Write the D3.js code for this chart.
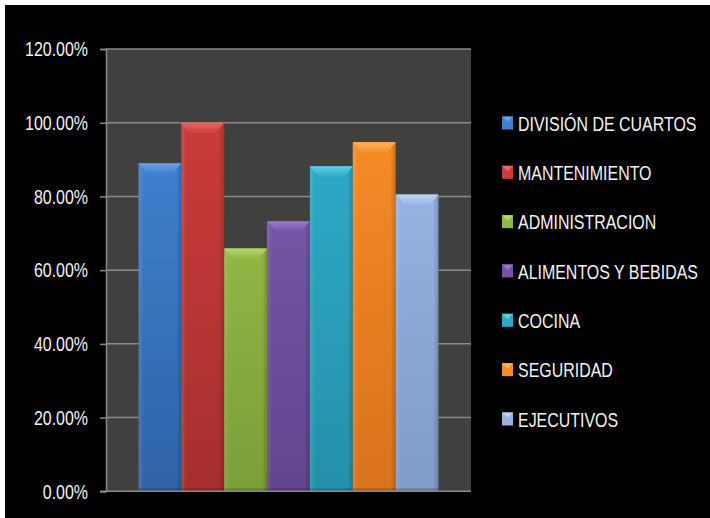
<!DOCTYPE html>
<html>
<head>
<meta charset="utf-8">
<script src="https://cdn.jsdelivr.net/npm/d3@7"></script>
<style>
  html, body { margin: 0; padding: 0; background: #fff; }
  svg { display: block; }
  text { font-family: "Liberation Sans", Arial, sans-serif; }
</style>
</head>
<body>
<svg id="chart" width="710" height="518"></svg>
<script>
// Porcentaje por departamento
const categories = [
  "DIVISIÓN DE CUARTOS",
  "MANTENIMIENTO",
  "ADMINISTRACION",
  "ALIMENTOS Y BEBIDAS",
  "COCINA",
  "SEGURIDAD",
  "EJECUTIVOS"
];
const values = [0.89, 1.00, 0.659, 0.733, 0.882, 0.947, 0.805];
const yTicks = [0, 0.2, 0.4, 0.6, 0.8, 1.0, 1.2];

// face colours per department: [top bevel, body top, body bottom]
const palette = [
  ["#62a2ee", "#3f7fcc", "#2f63a6"],
  ["#ec6664", "#c93c3a", "#a52f2e"],
  ["#b4d96a", "#90b644", "#7b9e38"],
  ["#9a78cc", "#7654a5", "#62448e"],
  ["#5ccfe8", "#2ea8c6", "#2590aa"],
  ["#ffb25a", "#f58a26", "#d7731d"],
  ["#bdd3f5", "#95b2e0", "#7f9bc8"]
];

const svg = d3.select("#chart");
const W = 710, H = 518;
const condense = 0.76;   // narrow the sans face horizontally

// frame: thin light strip on top/left, black canvas
svg.append("rect").attr("width", W).attr("height", H).attr("fill", "#ffffff");
svg.append("rect").attr("x", 5).attr("y", 5).attr("width", W - 5).attr("height", H - 5).attr("fill", "#000000");

const plot = { left: 106, right: 471, top: 49, bottom: 491.3 };

const x = d3.scaleBand()
  .domain(categories)
  .range([plot.left, plot.right])
  .paddingInner(0)
  .paddingOuter(0.76);

const y = d3.scaleLinear()
  .domain([0, 1.2])
  .range([plot.bottom, plot.top]);

// plot background
svg.append("rect")
  .attr("x", plot.left).attr("y", plot.top)
  .attr("width", plot.right - plot.left).attr("height", plot.bottom - plot.top)
  .attr("fill", "#404040");

// gridlines
svg.append("g")
  .selectAll("line")
  .data(yTicks.filter(t => t > 0))
  .join("line")
  .attr("x1", plot.left).attr("x2", plot.right)
  .attr("y1", d => y(d)).attr("y2", d => y(d))
  .attr("stroke", "#8a8a8a").attr("stroke-width", 1.5);

// y axis
const yAxis = d3.axisLeft(y)
  .tickValues(yTicks)
  .tickFormat(d => (d * 100).toFixed(2) + "%")
  .tickSize(6)
  .tickPadding(12);

const gy = svg.append("g")
  .attr("transform", `translate(${plot.left},0)`)
  .call(yAxis);
gy.select(".domain").attr("stroke", "#8a8a8a").attr("stroke-width", 1.5);
gy.selectAll(".tick line").attr("stroke", "#8a8a8a").attr("stroke-width", 1.5);
gy.selectAll(".tick text")
  .attr("fill", "#f2f2f2")
  .attr("x", 0)
  .attr("transform", `translate(-18,0) scale(${condense},1)`)
  .style("font-size", "21px")
  .style("font-family", '"Liberation Sans", Arial, sans-serif');

// gradients
const defs = svg.append("defs");
palette.forEach((c, i) => {
  const g = defs.append("linearGradient").attr("id", "body" + i)
    .attr("x1", 0).attr("y1", 0).attr("x2", 0).attr("y2", 1);
  g.append("stop").attr("offset", "0%").attr("stop-color", c[1]);
  g.append("stop").attr("offset", "100%").attr("stop-color", c[2]);
  const s = defs.append("linearGradient").attr("id", "side" + i)
    .attr("x1", 0).attr("y1", 0).attr("x2", 1).attr("y2", 0);
  s.append("stop").attr("offset", "0%").attr("stop-color", "#ffffff").attr("stop-opacity", 0.12);
  s.append("stop").attr("offset", "12%").attr("stop-color", "#ffffff").attr("stop-opacity", 0);
  s.append("stop").attr("offset", "88%").attr("stop-color", "#000000").attr("stop-opacity", 0);
  s.append("stop").attr("offset", "100%").attr("stop-color", "#000000").attr("stop-opacity", 0.18);
  const t = defs.append("linearGradient").attr("id", "top" + i)
    .attr("x1", 0).attr("y1", 0).attr("x2", 0).attr("y2", 1);
  t.append("stop").attr("offset", "0%").attr("stop-color", c[0]);
  t.append("stop").attr("offset", "100%").attr("stop-color", c[1]);
});

// bars
const bars = svg.append("g").selectAll("g.bar")
  .data(values.map((v, i) => ({ cat: categories[i], v, i })))
  .join("g").attr("class", "bar");

bars.append("rect")
  .attr("x", d => x(d.cat))
  .attr("y", d => y(d.v))
  .attr("width", x.bandwidth())
  .attr("height", d => plot.bottom - y(d.v))
  .attr("fill", d => `url(#body${d.i})`);

bars.append("rect")
  .attr("x", d => x(d.cat))
  .attr("y", d => y(d.v))
  .attr("width", x.bandwidth())
  .attr("height", d => plot.bottom - y(d.v))
  .attr("fill", d => `url(#side${d.i})`);

// top bevel
const bevelH = 11, bevelIn = 9;
bars.append("path")
  .attr("d", d => {
    const x0 = x(d.cat), x1 = x0 + x.bandwidth(), yt = y(d.v);
    return `M${x0},${yt}L${x1},${yt}L${x1 - bevelIn},${yt + bevelH}L${x0 + bevelIn},${yt + bevelH}Z`;
  })
  .attr("fill", d => `url(#top${d.i})`);

// bottom shadow edge
bars.append("rect")
  .attr("x", d => x(d.cat))
  .attr("y", plot.bottom - 3)
  .attr("width", x.bandwidth())
  .attr("height", 3)
  .attr("fill", "#000").attr("opacity", 0.18);

// x axis baseline
svg.append("line")
  .attr("x1", plot.left - 6).attr("x2", plot.right)
  .attr("y1", plot.bottom).attr("y2", plot.bottom)
  .attr("stroke", "#8a8a8a").attr("stroke-width", 1.5);

// legend
const legend = svg.append("g").attr("transform", "translate(502,0)");
const rowY = d3.scalePoint().domain(categories).range([123, 419]);
const items = legend.selectAll("g.item")
  .data(categories.map((c, i) => ({ c, i })))
  .join("g").attr("class", "item")
  .attr("transform", d => `translate(0,${rowY(d.c)})`);

items.append("rect")
  .attr("x", 0).attr("y", -6.5).attr("width", 11).attr("height", 13)
  .attr("fill", d => palette[d.i][1]);
items.append("path")
  .attr("d", "M0,-6.5L11,-6.5L5.5,-1Z")
  .attr("fill", d => palette[d.i][0]);
items.append("text")
  .attr("x", 0)
  .attr("y", 0)
  .attr("dy", "0.36em")
  .attr("transform", `translate(16,0) scale(${condense},1)`)
  .attr("fill", "#f2f2f2")
  .style("font-size", "21px")
  .text(d => d.c);
</script>
</body>
</html>
